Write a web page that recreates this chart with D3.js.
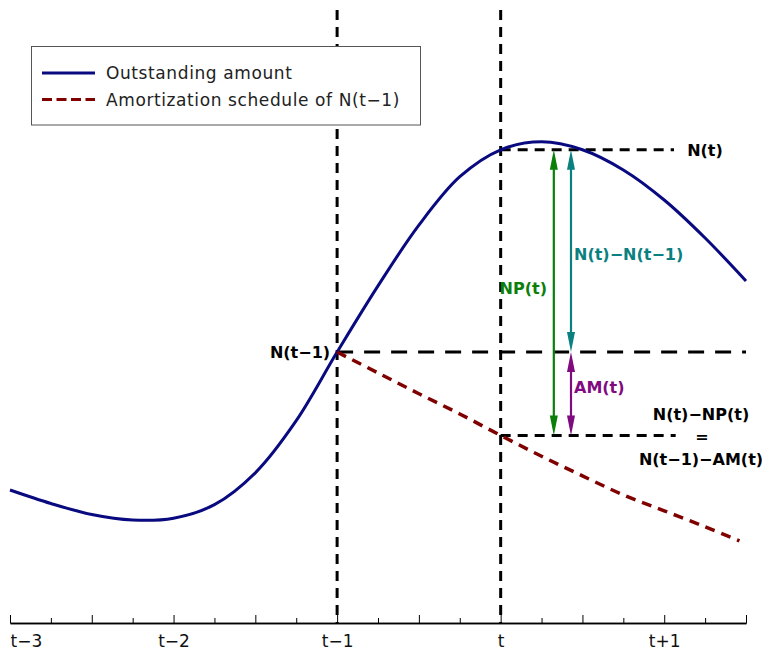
<!DOCTYPE html>
<html>
<head>
<meta charset="utf-8">
<script src="https://cdn.jsdelivr.net/npm/d3@7/dist/d3.min.js"></script>
<style>
  html, body { margin: 0; padding: 0; background: #fff; }
  svg { display: block; }
  text { font-family: "DejaVu Sans", sans-serif; }
</style>
</head>
<body>
<svg id="chart" width="762" height="652"></svg>
<script>
// Time offsets (relative to t) and the outstanding amount N at each quarter step
const timeSteps = [-3, -2.75, -2.5, -2.25, -2, -1.75, -1.5, -1.25, -1, -0.75, -0.5, -0.25, 0, 0.25, 0.5, 0.75, 1, 1.25, 1.5];
const outstanding = [21.7, 19.5, 17.7, 16.8, 17.1, 19.3, 24.5, 33.0, 44.2, 55.0, 64.9, 72.8, 77.2, 78.5, 77.2, 73.9, 69.0, 62.8, 55.8];

// Amortization schedule of N(t-1), starting at t-1
const scheduleSteps = [-1, -0.75, -0.5, -0.25, 0, 0.25, 0.5, 0.75, 1, 1.25, 1.46];
const schedule = [44.2, 40.8, 37.4, 34.1, 30.6, 27.2, 24.0, 20.9, 18.3, 15.7, 13.4];

// Axis tick labels
const tickValues = [-3, -2, -1, 0, 1];
const tickLabels = ["t\u22123", "t\u22122", "t\u22121", "t", "t+1"];

// Key levels
const levelPrev = 44.2;   // N(t-1)
const levelNow = 77.2;    // N(t)
const levelRest = 30.6;   // N(t)-NP(t) = N(t-1)-AM(t)

const svg = d3.select("#chart");
const x = d3.scaleLinear().domain([-3, 1.5]).range([10, 746]);
const y = d3.scaleLinear().domain([0, 100]).range([623, 10]);

const navy = "#0a0a80", darkRed = "#800000";
const green = "#0a800a", teal = "#0a8080", purple = "#800a80";

// Vertical reference lines at t-1 and t
[-1, 0].forEach(v => {
  svg.append("line")
    .attr("x1", x(v)).attr("x2", x(v))
    .attr("y1", y(100)).attr("y2", y(0))
    .attr("stroke", "#000").attr("stroke-width", 3)
    .attr("stroke-dasharray", "10,7");
});

// Horizontal reference lines
svg.append("line")
  .attr("x1", x(0)).attr("x2", x(1.06))
  .attr("y1", y(levelNow)).attr("y2", y(levelNow))
  .attr("stroke", "#000").attr("stroke-width", 3).attr("stroke-dasharray", "10,7");
svg.append("line")
  .attr("x1", x(-1)).attr("x2", x(1.5))
  .attr("y1", y(levelPrev)).attr("y2", y(levelPrev))
  .attr("stroke", "#000").attr("stroke-width", 3).attr("stroke-dasharray", "16,11");
svg.append("line")
  .attr("x1", x(0)).attr("x2", x(1.07))
  .attr("y1", y(levelRest)).attr("y2", y(levelRest))
  .attr("stroke", "#000").attr("stroke-width", 3).attr("stroke-dasharray", "10,7");

// Curves
const line = d3.line().x(d => x(d[0])).y(d => y(d[1])).curve(d3.curveCatmullRom.alpha(0.5));
svg.append("path")
  .attr("d", line(timeSteps.map((t, i) => [t, outstanding[i]])))
  .attr("fill", "none").attr("stroke", navy).attr("stroke-width", 3);
svg.append("path")
  .attr("d", line(scheduleSteps.map((t, i) => [t, schedule[i]])))
  .attr("fill", "none").attr("stroke", darkRed).attr("stroke-width", 3.5)
  .attr("stroke-dasharray", "10,7");

// Double-headed arrows between levels
function arrow(xv, top, bottom, color) {
  const px = x(xv), y1 = y(top), y2 = y(bottom);
  const head = 20, half = 4;
  svg.append("line")
    .attr("x1", px).attr("x2", px)
    .attr("y1", y1 + 8).attr("y2", y2 - 8)
    .attr("stroke", color).attr("stroke-width", 2.2);
  svg.append("path")
    .attr("d", `M${px},${y1}L${px - half},${y1 + head}L${px + half},${y1 + head}Z`)
    .attr("fill", color);
  svg.append("path")
    .attr("d", `M${px},${y2}L${px - half},${y2 - head}L${px + half},${y2 - head}Z`)
    .attr("fill", color);
}
arrow(0.325, levelNow, levelRest, green);
arrow(0.43, levelNow, levelPrev, teal);
arrow(0.43, levelPrev, levelRest, purple);

// Annotation labels
function label(px, py, txt, color, anchor) {
  svg.append("text")
    .attr("x", px).attr("y", py)
    .attr("dy", "0.36em")
    .attr("text-anchor", anchor || "middle")
    .attr("font-size", 16).attr("font-weight", "bold")
    .attr("fill", color)
    .text(txt);
}
label(705, y(levelNow), "N(t)", "#000");
label(x(-1) - 7, y(levelPrev), "N(t\u22121)", "#000", "end");
label(574, 254, "N(t)\u2212N(t\u22121)", teal, "start");
label(547, 288, "NP(t)", green, "end");
label(574, 387, "AM(t)", purple, "start");
label(701, 414, "N(t)\u2212NP(t)", "#000");
label(702, 436, "=", "#000");
label(701, 459, "N(t\u22121)\u2212AM(t)", "#000");

// Bottom axis: labelled integer ticks plus half and quarter minor ticks
const axisG = svg.append("g").attr("transform", `translate(0,${y(0)})`);
axisG.call(d3.axisBottom(x)
  .tickValues(d3.range(-3, 1.51, 0.25).filter(v => v % 0.5 !== 0))
  .tickSize(-5).tickSizeOuter(0).tickFormat(""));
const axisMajor = svg.append("g").attr("transform", `translate(0,${y(0)})`);
axisMajor.call(d3.axisBottom(x)
  .tickValues(d3.range(-3, 1.51, 0.5))
  .tickSize(-8).tickSizeOuter(0).tickPadding(12)
  .tickFormat(v => {
    const i = tickValues.indexOf(v);
    return i >= 0 ? tickLabels[i] : "";
  }));
svg.selectAll(".domain").attr("stroke", "#000").attr("stroke-width", 1.5);
svg.selectAll(".tick line").attr("stroke", "#000").attr("stroke-width", 1);
axisMajor.selectAll(".tick text")
  .attr("font-size", 17).attr("fill", "#111")
  .attr("font-family", "DejaVu Sans, sans-serif");
axisMajor.selectAll(".tick").filter(v => v === -3).select("text").attr("text-anchor", "start");

// Legend
const legend = svg.append("g");
legend.append("rect")
  .attr("x", 31.5).attr("y", 46.5).attr("width", 389).attr("height", 78.5)
  .attr("fill", "#fff").attr("stroke", "#555").attr("stroke-width", 1);
const legendItems = [
  { name: "Outstanding amount", color: navy, dash: null },
  { name: "Amortization schedule of N(t\u22121)", color: darkRed, dash: "10,4.5" }
];
legendItems.forEach((d, i) => {
  const ly = 73 + i * 26.5;
  legend.append("line")
    .attr("x1", 42).attr("x2", 95).attr("y1", ly).attr("y2", ly)
    .attr("stroke", d.color).attr("stroke-width", 3)
    .attr("stroke-dasharray", d.dash);
  legend.append("text")
    .attr("x", 106).attr("y", ly).attr("dy", "0.36em")
    .attr("font-size", 17).attr("letter-spacing", 0.6).attr("fill", "#222")
    .text(d.name);
});
</script>
</body>
</html>
